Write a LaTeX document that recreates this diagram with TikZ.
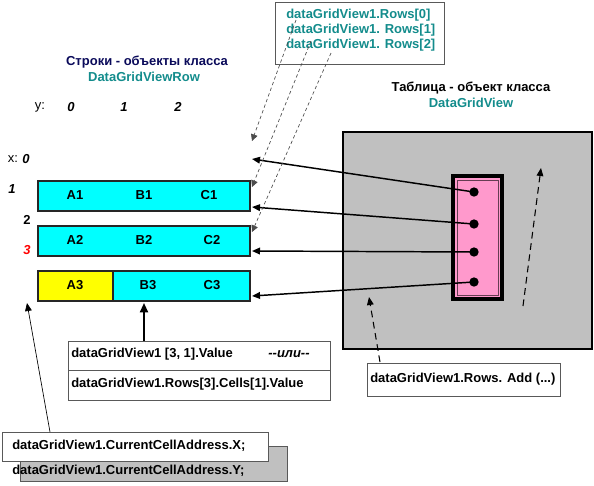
\documentclass[tikz,border=0pt]{standalone}
\usepackage{fontspec}
\setmainfont{Liberation Sans}
\usetikzlibrary{arrows.meta}
\definecolor{cellcyan}{HTML}{00FFFF}
\definecolor{cellyellow}{HTML}{FFFF00}
\definecolor{gridgray}{HTML}{C0C0C0}
\definecolor{rowpink}{HTML}{FF99CC}
\definecolor{rowteal}{HTML}{138C8C}
\definecolor{rownavy}{HTML}{0A0A5A}
\tikzset{
  lbl/.style={font=\bfseries\fontsize{9.75}{11}\selectfont, inner sep=0pt},
  idx/.style={font=\bfseries\itshape\fontsize{9.75}{11}\selectfont, inner sep=0pt},
  cellrow/.style={draw=black!85, line width=1.4pt},
  infobox/.style={draw=black!65, line width=0.6pt, fill=white},
  refline/.style={draw=black!70, line width=0.5pt, dash pattern=on 2.5pt off 2pt, -{Triangle[length=5pt,width=5pt]}},
  moveline/.style={line width=0.8pt, dash pattern=on 5pt off 3.5pt, -{Triangle[length=6pt,width=5pt]}},
  linkline/.style={line width=1.1pt, -{Triangle[length=6pt,width=5pt]}},
  dot/.style={circle, fill=black, inner sep=0pt, minimum size=7pt}
}
\begin{document}
\begin{tikzpicture}[x=0.75pt,y=-0.75pt]
	\useasboundingbox (0,0) rectangle (594,486);
	
	% Table object
	\draw[fill=gridgray, line width=1.1pt] (343,132) rectangle (592,349);
	\node[lbl] (ttl) at (471,88) {Таблица - объект класса};
	\node[lbl, text=rowteal] (ttlcls) at (471,103) {DataGridView};
	
	% Rows collection
	\draw[fill=rowpink, line width=2.8pt] (453,176) rectangle (502,299);
	\draw[draw=black!60!rowpink, line width=0.6pt] (457,180) rectangle (498,295);
	\node[dot] (d0) at (474,192) {};
	\node[dot] (d1) at (474,224) {};
	\node[dot] (d2) at (474,252) {};
	\node[dot] (d3) at (474,282) {};
	
	% Row title and indexes
	\node[lbl, text=rownavy] (rtl) at (147,62) {Строки - объекты класса};
	\node[lbl, text=rowteal] (rtlcls) at (144,77) {DataGridViewRow};
	\node[lbl, font=\fontsize{9.75}{11}\selectfont] (ylab) at (40,107) {y:};
	\node[idx] (y0) at (71,107) {0};
	\node[idx] (y1) at (124,107) {1};
	\node[idx] (y2) at (178,107) {2};
	\node[lbl, font=\fontsize{9.75}{11}\selectfont] (xlab) at (13,159) {x:};
	\node[idx] (x0) at (26,159) {0};
	\node[idx] (x1) at (12,189) {1};
	\node[lbl] (x2) at (27,220) {2};
	\node[idx, text=red] (x3) at (27,250) {3};
	
	% Rows
	\draw[cellrow, fill=cellcyan] (38,181) rectangle (250,211);
	\draw[cellrow, fill=cellcyan] (38,226) rectangle (250,256);
	\draw[cellrow, fill=cellcyan] (38,271) rectangle (250,301);
	\draw[cellrow, fill=cellyellow] (38,271) rectangle (113,301);
	\node[lbl] (a1) at (75,195) {A1};
	\node[lbl] (b1) at (144,195) {B1};
	\node[lbl] (c1) at (209,195) {C1};
	\node[lbl] (a2) at (75,240) {A2};
	\node[lbl] (b2) at (144,240) {B2};
	\node[lbl] (c2) at (212,240) {C2};
	\node[lbl] (a3) at (75,285) {A3};
	\node[lbl] (b3) at (148,285) {B3};
	\node[lbl] (c3) at (212,285) {C3};
	
	% Arrow ends
	\coordinate (e0) at (252,159);
	\coordinate (e1) at (252,207);
	\coordinate (e2) at (252,251);
	\coordinate (e3) at (252,296);
	\coordinate (r0) at (252,141);
	\coordinate (r1) at (252,187);
	\coordinate (r2) at (252,232);
	\coordinate (b3s) at (144,303);
	\coordinate (a3s) at (27,303);
	
	\draw[linkline] (d0.center) -- (e0);
	\draw[linkline] (d1.center) -- (e1);
	\draw[linkline] (d2.center) -- (e2);
	\draw[linkline] (d3.center) -- (e3);
	
	% Rows[i] box
	\draw[infobox] (275,2) rectangle (444,64);
	\node[lbl, text=rowteal, anchor=west] (rw0) at (286,15) {dataGridView1.Rows[0]};
	\node[lbl, text=rowteal, anchor=west] (rw1) at (286,30) {dataGridView1. Rows[1]};
	\node[lbl, text=rowteal, anchor=west] (rw2) at (286,45) {dataGridView1. Rows[2]};
	\coordinate (s0) at (296,20);
	\coordinate (s1) at (311,41);
	\coordinate (s2) at (331,53);
	\draw[refline] (s0) -- (r0);
	\draw[refline] (s1) -- (r1);
	\draw[refline] (s2) -- (r2);
	
	% Cell value box
	\draw[infobox] (68,341) rectangle (330,400);
	\draw[draw=black!65, line width=0.6pt] (68,370) -- (330,370);
	\node[lbl, anchor=west] (val) at (71,354) {dataGridView1 [3, 1].Value};
	\node[idx] (ili) at (289,354) {{-}{-}или{-}{-}};
	\node[lbl, anchor=west] (cells) at (71,384) {dataGridView1.Rows[3].Cells[1].Value};
	\coordinate (vtop) at (144,341);
	\draw[line width=1.4pt, -{Triangle[length=7pt,width=6pt]}] (vtop) -- (b3s);
	
	% Add box
	\draw[infobox] (367,363) rectangle (560,396);
	\node[lbl, anchor=west] (add) at (370,379) {dataGridView1.Rows. Add (...)};
	\coordinate (addtop) at (380,362);
	\coordinate (addend) at (369,297);
	\draw[moveline] (addtop) -- (addend);
	\coordinate (mv0) at (523,306);
	\coordinate (mv1) at (541,168);
	\draw[moveline] (mv0) -- (mv1);
	
	% Current cell address
	\draw[infobox, fill=gridgray] (20,446) rectangle (287,481);
	\draw[infobox] (2,432) rectangle (268,461);
	\node[lbl, anchor=west] (ccx) at (12,446) {dataGridView1.CurrentCellAddress.X;};
	\node[lbl, anchor=west] (ccy) at (12,471) {dataGridView1.CurrentCellAddress.Y;};
	\coordinate (cctop) at (50,432);
	\draw[line width=0.5pt, -{Triangle[length=6pt,width=5pt]}] (cctop) -- (a3s);
\end{tikzpicture}
\end{document}
